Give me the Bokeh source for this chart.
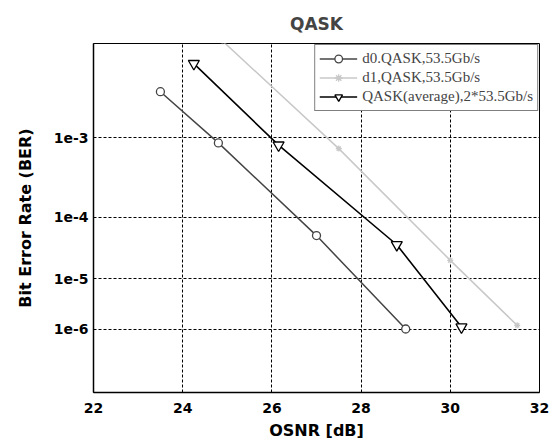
import numpy as np
from bokeh.plotting import figure
from bokeh.models import (Range1d, FixedTicker, CustomJSTickFormatter, Legend,
                          LegendItem)
from bokeh.embed import file_html
from bokeh.resources import INLINE

# ---- data ----
osnr_d0 = [23.5, 24.8, 27.0, 29.0]
ber_d0 = [2.9e-3, 8.8e-4, 5.3e-5, 1.0e-6]

osnr_d1 = [24.9, 27.5, 30.0, 31.5]
ber_d1 = [7.7e-3, 7.6e-4, 2.1e-5, 1.2e-6]

osnr_avg = [24.25, 26.15, 28.8, 30.25]
ber_avg = [5.1e-3, 8.3e-4, 3.8e-5, 1.1e-6]

x_ticks = [22, 24, 26, 28, 30, 32]
ber_ticks = [1e-3, 1e-4, 1e-5, 1e-6]
ber_top, ber_bottom = 7.4e-3, 2.8e-8

label_d0 = "d0.QASK,53.5Gb/s"
label_d1 = "d1,QASK,53.5Gb/s"
label_avg = "QASK(average),2*53.5Gb/s"


def qscale(b):
    """BER axis in -log10(-log10(BER)) scale (as in the reference)."""
    return -np.log10(-np.log10(np.asarray(b, dtype=float)))


FONT = "DejaVu Sans"

p = figure(width=555, height=446, output_backend="svg", toolbar_location=None,
           x_range=Range1d(22, 32),
           y_range=Range1d(float(qscale(ber_bottom)), float(qscale(ber_top))),
           min_border_left=93, min_border_right=16, min_border_top=43,
           min_border_bottom=54)

p.background_fill_color = "white"
p.border_fill_color = "white"
p.outline_line_color = "black"
p.outline_line_width = 1

p.title.text = "QASK"
p.title.align = "center"
p.title.text_font = FONT
p.title.text_font_style = "bold"
p.title.text_font_size = "17px"
p.title.standoff = 20

# axes
p.xaxis.ticker = FixedTicker(ticks=x_ticks)
p.yaxis.ticker = FixedTicker(ticks=[float(v) for v in qscale(ber_ticks)])
p.yaxis.formatter = CustomJSTickFormatter(
    code="const e = Math.round(Math.pow(10, -tick)); return '1e-' + e;")

for ax in (p.xaxis[0], p.yaxis[0]):
    ax.major_tick_in = 0
    ax.major_tick_out = 0
    ax.minor_tick_in = 0
    ax.minor_tick_out = 0
    ax.axis_line_color = "black"
    ax.axis_line_width = 1.5
    ax.major_label_text_font = FONT
    ax.major_label_text_font_style = "bold"
    ax.major_label_text_font_size = "14px"
    ax.major_label_text_color = "black"
    ax.axis_label_text_font = FONT
    ax.axis_label_text_font_style = "bold"
    ax.axis_label_text_font_size = "16px"
    ax.axis_label_text_color = "black"

p.xaxis.axis_label = "OSNR [dB]"
p.yaxis.axis_label = "Bit Error Rate (BER)"
p.xaxis.major_label_standoff = 10
p.yaxis.major_label_standoff = 5
p.xaxis.axis_label_standoff = 5
p.yaxis.axis_label_standoff = 16

for g in (p.xgrid[0], p.ygrid[0]):
    g.grid_line_color = "black"
    g.grid_line_dash = "3 2"
    g.grid_line_width = 1
    g.grid_line_alpha = 1
p.ygrid.ticker = p.yaxis.ticker

# series
c_d0 = "#444444"
c_d1 = "#c8c8c8"
c_avg = "#000000"

l0 = p.line(osnr_d0, qscale(ber_d0), line_color=c_d0, line_width=1.5)
m0 = p.scatter(osnr_d0, qscale(ber_d0), marker="circle", size=8,
               line_color=c_d0, fill_color="white", line_width=1.3)

l1 = p.line(osnr_d1, qscale(ber_d1), line_color=c_d1, line_width=1.5)
m1 = p.scatter(osnr_d1, qscale(ber_d1), marker="asterisk", size=6,
               line_color=c_d1, line_width=1.3)

l2 = p.line(osnr_avg, qscale(ber_avg), line_color=c_avg, line_width=1.6)
m2 = p.scatter(osnr_avg, qscale(ber_avg), marker="inverted_triangle", size=11,
               line_color=c_avg, fill_color="white", line_width=1.3)

legend = Legend(items=[LegendItem(label=label_d0, renderers=[l0, m0]),
                       LegendItem(label=label_d1, renderers=[l1, m1]),
                       LegendItem(label=label_avg, renderers=[l2, m2])],
                location="top_right", margin=1, padding=4, spacing=0,
                glyph_width=38, glyph_height=19, label_height=19,
                label_standoff=5,
                label_text_font="Liberation Serif",
                label_text_font_size="15px",
                border_line_color="black", border_line_width=1,
                background_fill_color="white", background_fill_alpha=1)
p.add_layout(legend)

open("out.html", "w").write(file_html(p, INLINE))
